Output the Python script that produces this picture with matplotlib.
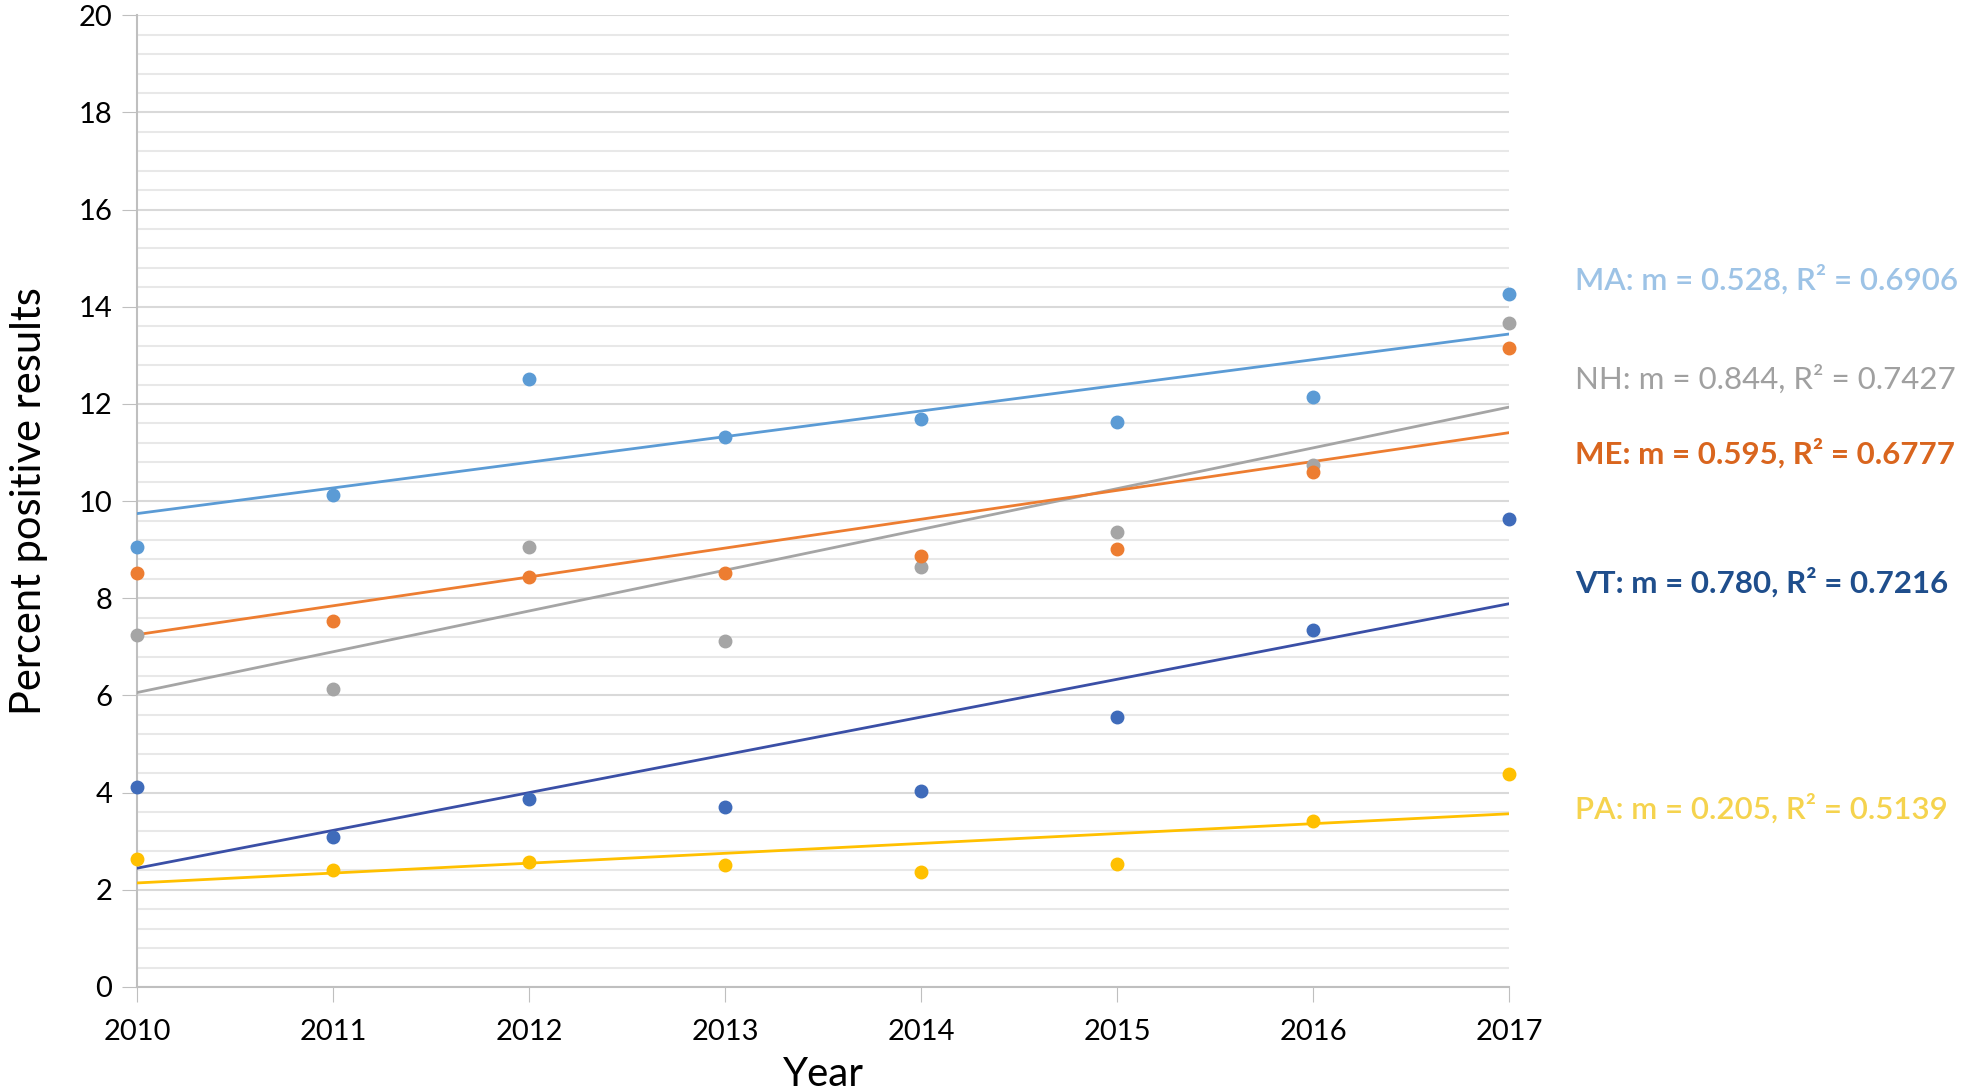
import numpy as np
from matplotlib import pyplot as plt
from matplotlib.ticker import MultipleLocator

plt.rcParams['font.family'] = ['Lato', 'DejaVu Sans']

years = [2010, 2011, 2012, 2013, 2014, 2015, 2016, 2017]

# percent positive results per state
ma = [9.05, 10.12, 12.52, 11.32, 11.68, 11.62, 12.15, 14.27]
nh = [7.25, 6.13, 9.05, 7.12, 8.65, 9.36, 10.75, 13.67]
me = [8.52, 7.53, 8.43, 8.52, 8.87, 9.02, 10.6, 13.15]
vt = [4.12, 3.08, 3.86, 3.71, 4.03, 5.55, 7.35, 9.63]
pa = [2.64, 2.4, 2.57, 2.5, 2.37, 2.54, 3.41, 4.39]

labels = ['MA: m = 0.528, R\u00b2 = 0.6906',
          'NH: m = 0.844, R\u00b2 = 0.7427',
          'ME: m = 0.595, R\u00b2 = 0.6777',
          'VT: m = 0.780, R\u00b2 = 0.7216',
          'PA: m = 0.205, R\u00b2 = 0.5139']
label_y = [0.744, 0.653, 0.585, 0.467, 0.260]
label_weight = ['semibold', 'normal', 'bold', 'bold', 'semibold']

series = [ma, nh, me, vt, pa]
point_colors = ['#5B9BD5', '#A5A5A5', '#ED7D31', '#3F6BBA', '#FFC000']
line_colors = ['#5B9BD5', '#A5A5A5', '#ED7D31', '#3A4FA6', '#FFC000']
text_colors = ['#9DC3E6', '#A0A0A0', '#D9651E', '#1F4E8C', '#F5D34E']

fig = plt.figure(figsize=(19.61, 10.92), dpi=100)
ax = fig.add_axes([0.0699, 0.0962, 0.6996, 0.8898])

x = np.array(years)
for vals, pc, lc in zip(series, point_colors, line_colors):
    # linear trendline, like the Excel one
    m, b = np.polyfit(x, vals, 1)
    ax.plot(x, m * x + b, color=lc, lw=2.0, zorder=3)
    ax.plot(x, vals, 'o', color=pc, markersize=9, zorder=4, clip_on=False)

for txt, ty, tw, tc in zip(labels, label_y, label_weight, text_colors):
    fig.text(0.803, ty, txt, color=tc, fontsize=22.5, fontweight=tw, va='center', ha='left')

ax.set_xlim(2010, 2017)
ax.set_ylim(0, 20)
ax.set_xticks(years)
ax.set_yticks(range(0, 21, 2))
ax.yaxis.set_minor_locator(MultipleLocator(0.4))
ax.grid(which='major', axis='y', color='#D9D9D9', lw=1.5)
ax.grid(which='minor', axis='y', color='#E8E8E8', lw=1.5)
ax.set_axisbelow(True)
ax.tick_params(which='minor', length=0)
ax.tick_params(which='major', length=11, color='#BFBFBF', labelsize=21, pad=7)
ax.tick_params(axis='x', pad=12)
for s in ['top', 'right']:
    ax.spines[s].set_visible(False)
for s in ['left', 'bottom']:
    ax.spines[s].set_color('#BFBFBF')
    ax.spines[s].set_linewidth(1.5)

ax.set_xlabel('Year', fontsize=29, labelpad=8)
ax.set_ylabel('Percent positive results', fontsize=30, labelpad=22)

fig.savefig('out.png', dpi=100)
